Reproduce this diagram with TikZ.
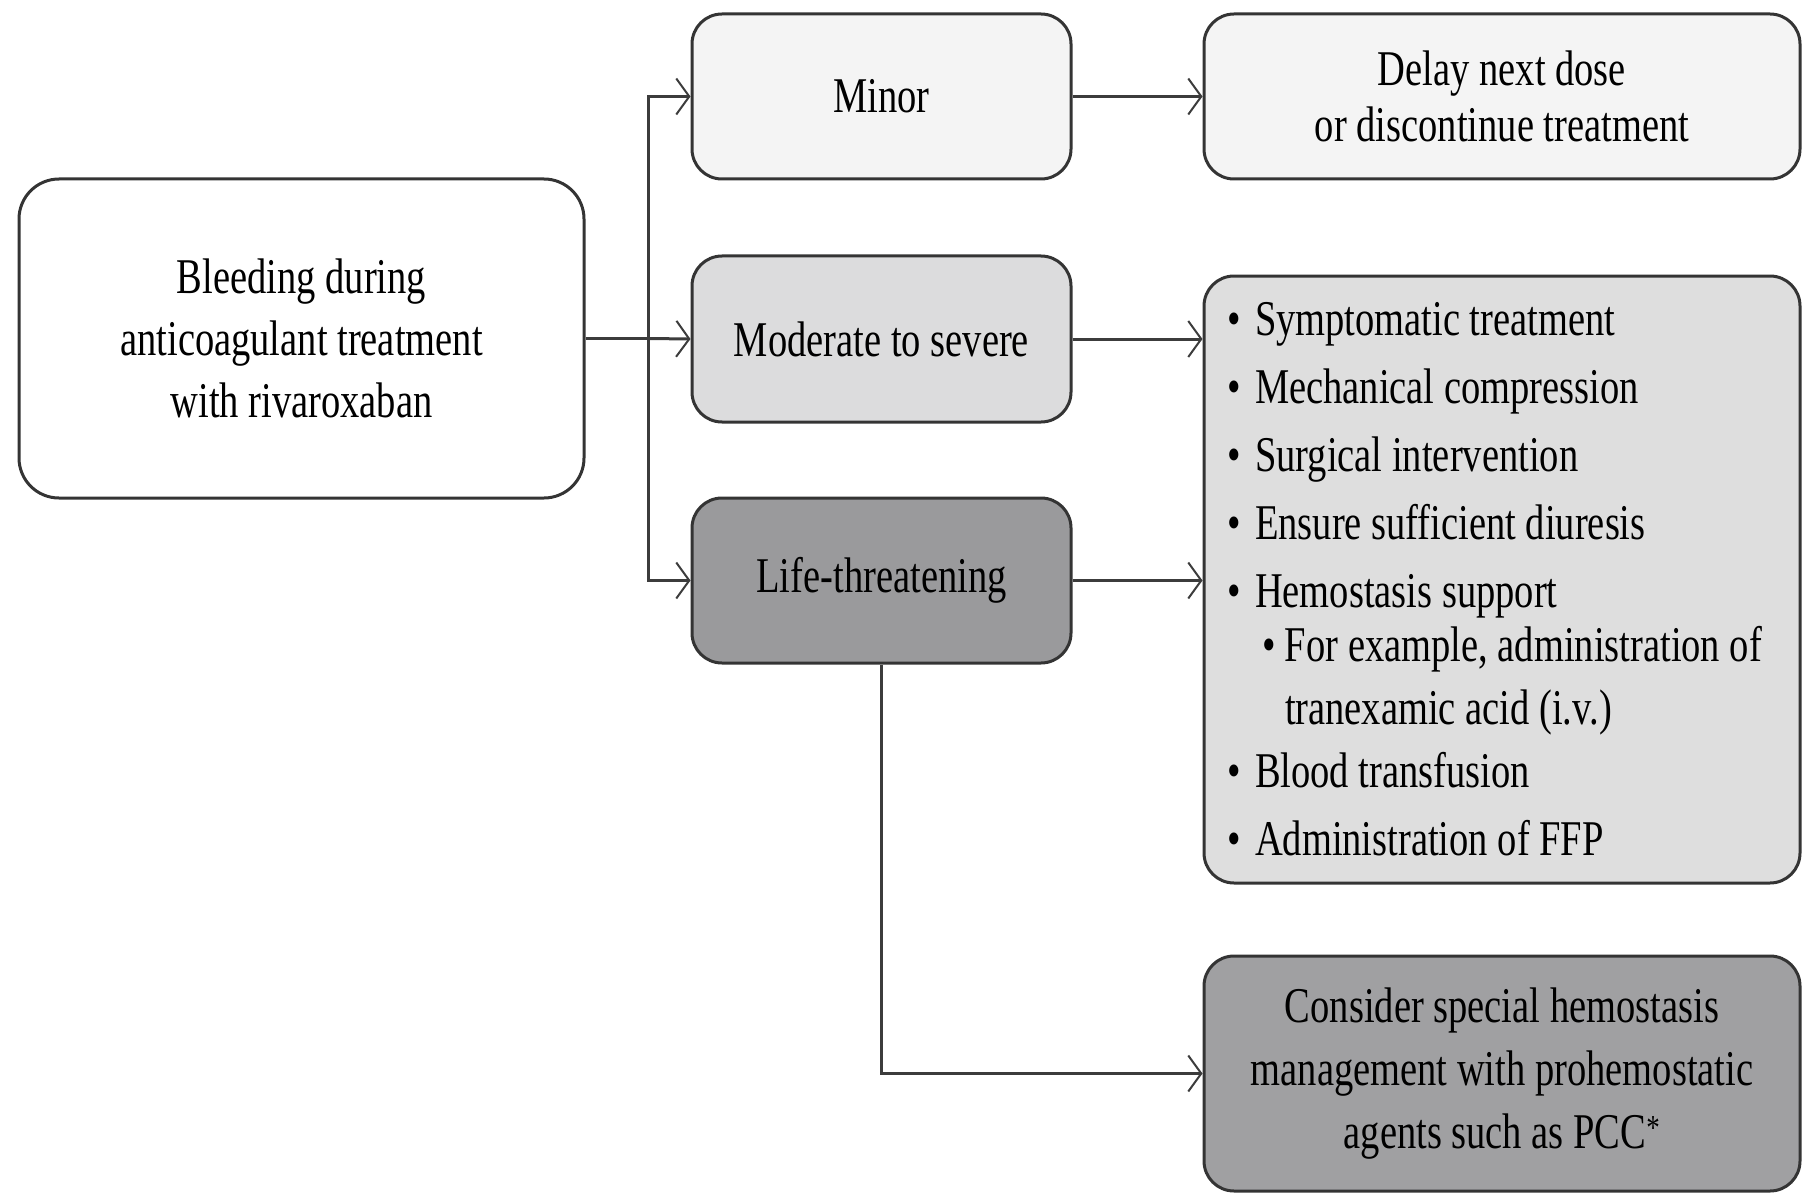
\documentclass[tikz,border=0pt]{standalone}
\usepackage{fontspec}
\setmainfont{Liberation Serif}[FakeStretch=0.77]
\usetikzlibrary{arrows.meta}
\definecolor{edgec}{HTML}{343434}
\definecolor{linec}{HTML}{3C3C3C}
\definecolor{fminor}{HTML}{F4F4F4}
\definecolor{fmod}{HTML}{DCDCDD}
\definecolor{flist}{HTML}{DEDEDE}
\definecolor{flife}{HTML}{9A9A9C}
\definecolor{fpcc}{HTML}{A0A0A2}
\newcommand\itm[1]{\hspace*{6pt}\makebox[28pt][l]{\textbullet}#1}
\begin{document}
\begin{tikzpicture}[x=1pt,y=-1pt,
  box/.style={draw=edgec, line width=3pt, rounded corners=30pt, align=center,
    inner sep=0pt, font=\fontsize{50}{62}\selectfont},
  conn/.style={draw=linec, line width=3pt,
    -{Straight Barb[length=13pt,width=36pt,line width=2pt]}},
  plain/.style={draw=linec, line width=3pt}]
\useasboundingbox (0,0) rectangle (1802,1193);

\node[box, fill=white, rounded corners=40pt, minimum width=565pt, minimum height=319pt]
  (start) at (301.5,338.5) {Bleeding during\\anticoagulant treatment\\with rivaroxaban};

\node[box, fill=fminor, minimum width=379pt, minimum height=165pt]
  (minor) at (881.5,96.5) {Minor};
\node[box, fill=fmod, minimum width=379pt, minimum height=166pt]
  (moderate) at (881.5,339) {Moderate to severe};
\node[box, fill=flife, minimum width=379pt, minimum height=165pt]
  (life) at (881.5,580.5) {Life-threatening};

\node[box, fill=fminor, minimum width=596pt, minimum height=165pt,
  font=\fontsize{50}{56}\selectfont]
  (delay) at (1502,96.5) {Delay next dose\\or discontinue treatment};

\node[box, fill=flist, minimum width=596pt, minimum height=607pt,
  font=\fontsize{50}{68}\selectfont, align=flush left, text width=562pt, inner xsep=17pt]
  (list) at (1502,579.5) {\itm{Symptomatic treatment}\\
    \itm{Mechanical compression}\\
    \itm{Surgical intervention}\\
    \itm{Ensure sufficient diuresis}\\
    \itm{Hemostasis support}\\[-14pt]
    \hspace*{41pt}\makebox[23pt][l]{\textbullet}For example, administration of\\[-5pt]
    \hspace*{64pt}tranexamic acid (i.v.)\\[-5pt]
    \itm{Blood transfusion}\\
    \itm{Administration of FFP}};

\node[box, fill=fpcc, minimum width=596pt, minimum height=235pt,
  font=\fontsize{50}{63}\selectfont]
  (pcc) at (1502,1073.5) {Consider special hemostasis\\management with prohemostatic\\agents such as PCC\textsuperscript{*}};

\coordinate (split) at (648,338.5);
\draw[plain] (start.east) -- (split);
\draw[conn] (split) |- (minor.west);
\draw[conn] (split) -- (moderate.west);
\draw[conn] (split) |- (life.west);

\draw[conn] (minor.east) -- (delay.west);
\draw[conn] (moderate.east) -- (moderate.east -| list.west);
\draw[conn] (life.east) -- (life.east -| list.west);
\draw[conn] (life.south) |- (pcc.west);
\end{tikzpicture}
\end{document}
